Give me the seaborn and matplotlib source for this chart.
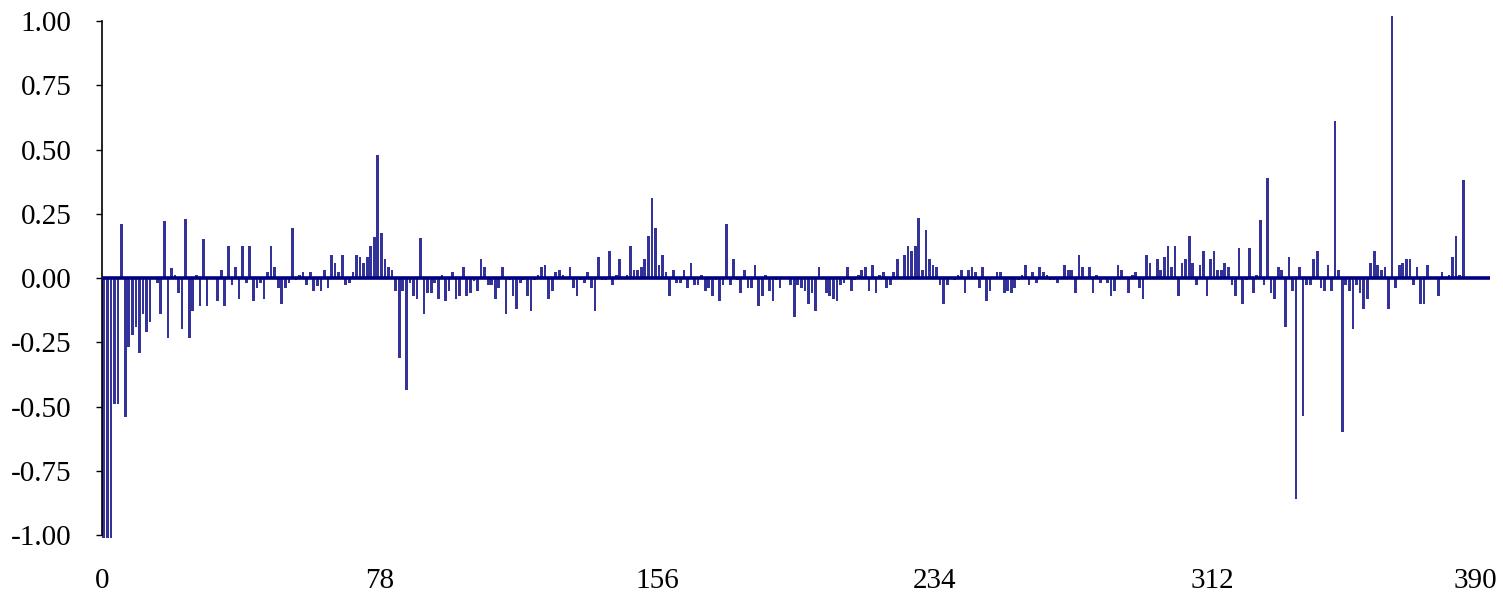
# Bar chart of small fluctuations around zero, rebuilt with seaborn

import numpy as np
import pandas as pd
from matplotlib import pyplot as plt
import matplotlib.transforms as mtrans
import seaborn as sns

sns.set_style('white')
plt.rcParams['font.family'] = ['Liberation Serif', 'DejaVu Serif']
plt.rcParams['text.color'] = 'black'
plt.rcParams['xtick.color'] = 'black'
plt.rcParams['ytick.color'] = 'black'

# Data
seg1 = [-1.01, -1.01, -1.01, -0.49, -0.49, 0.21, -0.54, -0.27, -0.22, -0.19, -0.29, -0.14,
        -0.21, -0.17, -0.005, -0.02, -0.14, 0.22, -0.235, 0.04, 0.01, -0.06, -0.20, 0.23,
        -0.235, -0.13, 0.01, -0.11, 0.15, -0.11, 0.0, 0.0]
seg2 = [-0.09, 0.03, -0.11, 0.125, -0.026, 0.043, -0.08, 0.125, -0.02, 0.125, -0.09, -0.04,
        -0.02, -0.08, 0.025, 0.125, 0.043, -0.04, -0.10, -0.04, -0.02, 0.195, -0.007, 0.01,
        0.025, -0.026, 0.025, -0.05, -0.03, -0.05, 0.03, -0.04, 0.09, 0.06]
seg3 = [0.025, 0.09, -0.026, -0.02, 0.025, 0.09, 0.08, 0.06, 0.08, 0.125, 0.16, 0.48, 0.175,
        0.075, 0.043, 0.03, -0.05, -0.31, -0.05, -0.435, -0.02, -0.07, -0.08, 0.155, -0.14,
        -0.06, -0.06, -0.02, -0.08, 0.01, -0.09, -0.05, 0.025]
seg4 = [-0.08, -0.07, 0.043, -0.07, -0.06, -0.01, -0.05, 0.075, 0.043, -0.026, -0.026, -0.08,
        -0.04, 0.043, -0.14, -0.007, -0.07, -0.12, -0.02, -0.007, -0.07, -0.13, -0.007, 0.012,
        0.043, 0.05, -0.08, -0.05, 0.025, 0.03, 0.01, 0.0]
seg5 = [0.043, -0.04, -0.07, -0.007, -0.02, 0.025, -0.04, -0.13, 0.08, -0.007, -0.007, 0.105,
        -0.026, 0.01, 0.075, 0.003, 0.01, 0.125, 0.03, 0.03, 0.043, 0.075, 0.165, 0.31, 0.195,
        0.05, 0.09, 0.025, -0.07, 0.03, -0.02, -0.02, 0.03, -0.04]
seg6 = [0.06, -0.026, -0.026, 0.01, -0.05, -0.04, -0.07, -0.007, -0.09, -0.026, 0.21, -0.026,
        0.075, -0.007, -0.06, 0.03, -0.04, -0.04, 0.05, -0.11, -0.07, 0.01, -0.05, -0.09,
        -0.007, -0.04, 0.0, 0.0, -0.026, -0.15, -0.026]
seg7 = [-0.04, -0.05, -0.10, -0.06, -0.13, 0.043, 0.0, -0.06, -0.07, -0.08, -0.09, -0.026,
        -0.02, 0.043, -0.05, -0.007, 0.01, 0.03, 0.043, -0.05, 0.05, -0.06, 0.01, 0.025,
        -0.04, -0.026, 0.025, 0.075, 0.0, 0.09, 0.125, 0.105]
seg8 = [0.125, 0.235, 0.03, 0.185, 0.075, 0.05, 0.043, -0.026, -0.10, -0.026, 0.0, -0.007,
        0.01, 0.03, -0.06, 0.03, 0.043, 0.025, -0.04, 0.043, -0.09, -0.05, 0.0, 0.025, 0.025,
        -0.06, -0.05, -0.06, -0.04, -0.007, 0.01, 0.05]
seg9 = [-0.026, 0.025, -0.02, 0.043, 0.025, 0.01, -0.007, -0.007, -0.02, 0.0, 0.05, 0.03,
        0.03, -0.06, 0.09, 0.043, 0.0, 0.043, -0.06, 0.01, -0.02, 0.0, -0.02, -0.07, -0.05,
        0.05, 0.03, 0.0, -0.06, 0.01, 0.025, -0.04]
seg10 = [-0.08, 0.09, 0.06, 0.0, 0.075, 0.03, 0.08, 0.125, 0.043, 0.125, -0.07, 0.06, 0.075,
         0.165, 0.06, -0.026, 0.05, 0.105, -0.07, 0.075, 0.105, 0.03, 0.03, 0.06, 0.043,
         -0.026, -0.07, 0.115, -0.10, -0.007, 0.115, -0.06, 0.01]
seg11 = [0.225, -0.026, 0.39, -0.06, -0.08, 0.043, 0.03, -0.19, 0.08, -0.05, -0.86, 0.043,
         -0.535, -0.026, -0.026, 0.075, 0.105, -0.04, -0.05, 0.05, -0.05, 0.61, 0.03, -0.60,
         -0.026, -0.05, -0.20, -0.026, -0.06, -0.12, -0.08, 0.06, 0.105]
seg12 = [0.05, 0.03, 0.043, -0.12, 1.02, -0.04, 0.05, 0.06, 0.075, 0.075, -0.026, 0.043,
         -0.10, -0.10, 0.05, 0.0, 0.0, -0.07, 0.025, 0.0, 0.01, 0.08, 0.165, 0.01, 0.38]

values = seg1 + seg2 + seg3 + seg4 + seg5 + seg6 + seg7 + seg8 + seg9 + seg10 + seg11 + seg12
x_ticks = [0, 78, 156, 234, 312, 390]
y_ticks = [-1.00, -0.75, -0.50, -0.25, 0.00, 0.25, 0.50, 0.75, 1.00]

df = pd.DataFrame({'pos': np.arange(len(values)) + 0.5, 'value': values})

# Plot
fig = plt.figure(figsize=(15.03, 6.01), dpi=100)
ax = fig.add_axes([0.0679, 0.1098, 0.9234, 0.8552])
sns.barplot(data=df, x='pos', y='value', native_scale=True, color='#333399',
            saturation=1, errorbar=None, linewidth=0, ax=ax)
# fixed bar width, bars drawn past the axes box like the original
for p in ax.patches:
    cx = p.get_x() + p.get_width() / 2
    p.set_x(cx - 0.38)
    p.set_width(0.76)
    p.set_clip_on(False)
ax.axhline(0, color='#000080', lw=2.6, zorder=5)

ax.set_xlim(0, 390)
ax.set_ylim(-1.0, 1.0)
ax.set_xticks(x_ticks)
ax.set_xticklabels([str(t) for t in x_ticks])
ax.set_yticks(y_ticks)
ax.set_yticklabels([f'{t:.2f}' for t in y_ticks])
ax.set_xlabel('')
ax.set_ylabel('')

for side in ['top', 'right', 'bottom']:
    ax.spines[side].set_visible(False)
ax.spines['left'].set_color('black')
ax.spines['left'].set_linewidth(1.2)
ax.tick_params(axis='y', left=True, length=4, width=1, pad=18, labelsize=21)
ax.tick_params(axis='x', bottom=False, length=0, pad=24, labelsize=21)

# last x label pulled inside the figure edge
last = ax.get_xticklabels()[-1]
last.set_ha('right')
last.set_transform(last.get_transform() + mtrans.ScaledTranslation(7 / 100, 0, fig.dpi_scale_trans))

fig.savefig('out.png', dpi=100)
